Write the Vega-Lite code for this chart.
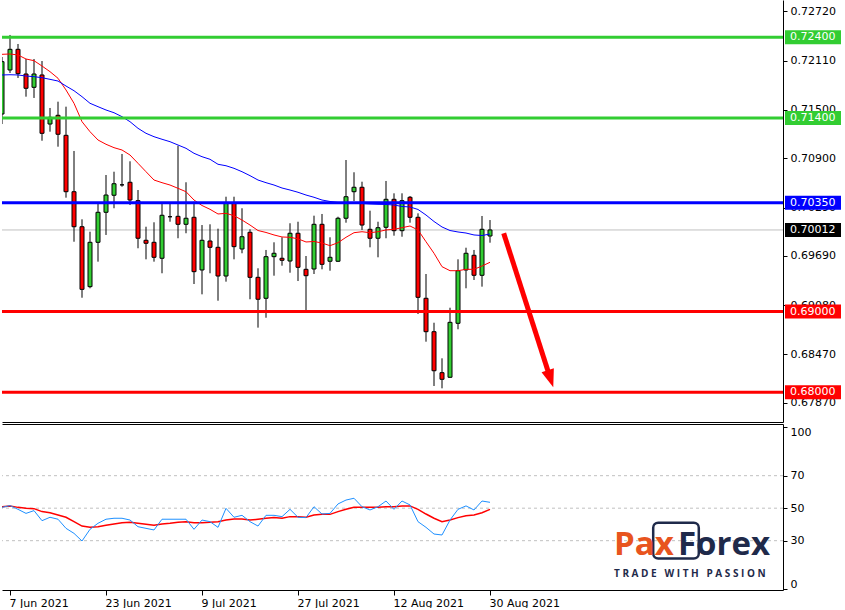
{
  "$schema": "https://vega.github.io/schema/vega-lite/v6.json",
  "padding": 0,
  "background": "#FFFFFF",
  "spacing": 2,
  "config": {"view": {"stroke": null}, "font": "DejaVu Sans"},
  "datasets": {
    "bars": [
      {"i":0,"o":0.71449,"h":0.72156,"l":0.71325,"c":0.72098,"fast":0.72189,"slow":0.71933,"rsi":50.5,"sig":50.9},
      {"i":1,"o":0.71995,"h":0.72429,"l":0.71958,"c":0.72251,"fast":0.72193,"slow":0.71936,"rsi":51.6,"sig":51.4},
      {"i":2,"o":0.72251,"h":0.72317,"l":0.71896,"c":0.71949,"fast":0.72181,"slow":0.71933,"rsi":49.3,"sig":50.5},
      {"i":3,"o":0.71945,"h":0.72131,"l":0.71664,"c":0.71768,"fast":0.72131,"slow":0.7192,"rsi":46.8,"sig":49.9},
      {"i":4,"o":0.7178,"h":0.72131,"l":0.71648,"c":0.71945,"fast":0.7211,"slow":0.71912,"rsi":48.5,"sig":49.7},
      {"i":5,"o":0.71933,"h":0.72106,"l":0.71118,"c":0.7121,"fast":0.72044,"slow":0.71899,"rsi":42.3,"sig":47.9},
      {"i":6,"o":0.71325,"h":0.71524,"l":0.7123,"c":0.71408,"fast":0.71974,"slow":0.71879,"rsi":44.4,"sig":47.2},
      {"i":7,"o":0.71433,"h":0.71602,"l":0.71044,"c":0.71198,"fast":0.71892,"slow":0.71858,"rsi":43.2,"sig":45.8},
      {"i":8,"o":0.71185,"h":0.7154,"l":0.70412,"c":0.70486,"fast":0.71747,"slow":0.71796,"rsi":37.6,"sig":44.4},
      {"i":9,"o":0.70486,"h":0.70991,"l":0.69866,"c":0.70052,"fast":0.71582,"slow":0.71738,"rsi":34.5,"sig":41.7},
      {"i":10,"o":0.70052,"h":0.70144,"l":0.69172,"c":0.69276,"fast":0.71354,"slow":0.71664,"rsi":29.8,"sig":39.0},
      {"i":11,"o":0.69309,"h":0.6999,"l":0.69289,"c":0.69859,"fast":0.7123,"slow":0.71582,"rsi":37.0,"sig":38.2},
      {"i":12,"o":0.69859,"h":0.70342,"l":0.69619,"c":0.70231,"fast":0.71127,"slow":0.7154,"rsi":40.7,"sig":38.6},
      {"i":13,"o":0.70231,"h":0.70693,"l":0.6995,"c":0.70445,"fast":0.71074,"slow":0.71499,"rsi":43.2,"sig":39.5},
      {"i":14,"o":0.70442,"h":0.70734,"l":0.70281,"c":0.70585,"fast":0.71032,"slow":0.71465,"rsi":43.8,"sig":40.3},
      {"i":15,"o":0.70571,"h":0.70954,"l":0.70548,"c":0.70571,"fast":0.71003,"slow":0.71416,"rsi":43.8,"sig":41.1},
      {"i":16,"o":0.70603,"h":0.70863,"l":0.70321,"c":0.70383,"fast":0.70941,"slow":0.71354,"rsi":42.7,"sig":41.3},
      {"i":17,"o":0.70375,"h":0.70507,"l":0.69785,"c":0.69909,"fast":0.70838,"slow":0.71272,"rsi":38.6,"sig":40.7},
      {"i":18,"o":0.69884,"h":0.70052,"l":0.69648,"c":0.69847,"fast":0.70734,"slow":0.7121,"rsi":37.6,"sig":40.1},
      {"i":19,"o":0.69859,"h":0.70107,"l":0.69619,"c":0.69673,"fast":0.70631,"slow":0.71168,"rsi":36.6,"sig":39.5},
      {"i":20,"o":0.69661,"h":0.70342,"l":0.69475,"c":0.70194,"fast":0.70598,"slow":0.71136,"rsi":43.2,"sig":40.3},
      {"i":21,"o":0.70176,"h":0.70334,"l":0.70114,"c":0.70176,"fast":0.70569,"slow":0.71106,"rsi":43.2,"sig":40.7},
      {"i":22,"o":0.70181,"h":0.71056,"l":0.69909,"c":0.70082,"fast":0.70528,"slow":0.71065,"rsi":43.2,"sig":41.3},
      {"i":23,"o":0.70082,"h":0.70603,"l":0.69971,"c":0.70157,"fast":0.70486,"slow":0.71024,"rsi":43.2,"sig":41.7},
      {"i":24,"o":0.70169,"h":0.70362,"l":0.69342,"c":0.69495,"fast":0.70383,"slow":0.70962,"rsi":37.0,"sig":41.1},
      {"i":25,"o":0.69516,"h":0.70073,"l":0.69214,"c":0.69884,"fast":0.70315,"slow":0.7092,"rsi":42.7,"sig":41.1},
      {"i":26,"o":0.69875,"h":0.70082,"l":0.69475,"c":0.69797,"fast":0.70268,"slow":0.70888,"rsi":41.7,"sig":41.3},
      {"i":27,"o":0.69797,"h":0.70028,"l":0.69135,"c":0.69441,"fast":0.7021,"slow":0.70826,"rsi":38.2,"sig":41.7},
      {"i":28,"o":0.69441,"h":0.70424,"l":0.69371,"c":0.7035,"fast":0.70218,"slow":0.70808,"rsi":49.9,"sig":42.7},
      {"i":29,"o":0.7035,"h":0.70424,"l":0.69648,"c":0.69805,"fast":0.70189,"slow":0.70776,"rsi":44.4,"sig":43.4},
      {"i":30,"o":0.69776,"h":0.70281,"l":0.69723,"c":0.69928,"fast":0.70135,"slow":0.70734,"rsi":45.6,"sig":43.4},
      {"i":31,"o":0.69983,"h":0.7002,"l":0.69153,"c":0.69425,"fast":0.70073,"slow":0.70685,"rsi":41.7,"sig":42.7},
      {"i":32,"o":0.69425,"h":0.69537,"l":0.68801,"c":0.69153,"fast":0.70005,"slow":0.70631,"rsi":39.0,"sig":43.2},
      {"i":33,"o":0.69165,"h":0.69764,"l":0.68924,"c":0.69681,"fast":0.69981,"slow":0.70598,"rsi":45.6,"sig":43.8},
      {"i":34,"o":0.69681,"h":0.69859,"l":0.69445,"c":0.69723,"fast":0.6995,"slow":0.70569,"rsi":45.6,"sig":44.2},
      {"i":35,"o":0.69661,"h":0.69921,"l":0.69569,"c":0.69636,"fast":0.69925,"slow":0.70532,"rsi":44.8,"sig":43.8},
      {"i":36,"o":0.69627,"h":0.70095,"l":0.69482,"c":0.69971,"fast":0.69921,"slow":0.70507,"rsi":49.3,"sig":44.8},
      {"i":37,"o":0.69971,"h":0.70114,"l":0.69379,"c":0.69549,"fast":0.69902,"slow":0.70479,"rsi":44.4,"sig":44.8},
      {"i":38,"o":0.69524,"h":0.69689,"l":0.69011,"c":0.69445,"fast":0.69863,"slow":0.70445,"rsi":44.2,"sig":44.4},
      {"i":39,"o":0.69528,"h":0.70189,"l":0.69466,"c":0.70082,"fast":0.69869,"slow":0.70417,"rsi":50.9,"sig":45.8},
      {"i":40,"o":0.70082,"h":0.7021,"l":0.69524,"c":0.69586,"fast":0.6985,"slow":0.70383,"rsi":46.4,"sig":46.2},
      {"i":41,"o":0.69624,"h":0.69921,"l":0.69507,"c":0.69673,"fast":0.69817,"slow":0.70365,"rsi":46.8,"sig":46.2},
      {"i":42,"o":0.69624,"h":0.70176,"l":0.69615,"c":0.70157,"fast":0.69854,"slow":0.70352,"rsi":52.6,"sig":47.9},
      {"i":43,"o":0.70157,"h":0.70879,"l":0.70102,"c":0.70424,"fast":0.69921,"slow":0.70346,"rsi":55.0,"sig":49.3},
      {"i":44,"o":0.70486,"h":0.70727,"l":0.70371,"c":0.70541,"fast":0.69978,"slow":0.70344,"rsi":56.1,"sig":50.5},
      {"i":45,"o":0.70541,"h":0.7061,"l":0.70012,"c":0.70073,"fast":0.6999,"slow":0.7034,"rsi":50.9,"sig":50.5},
      {"i":46,"o":0.7002,"h":0.70251,"l":0.69797,"c":0.69909,"fast":0.69978,"slow":0.70334,"rsi":48.9,"sig":50.5},
      {"i":47,"o":0.69909,"h":0.70114,"l":0.69673,"c":0.7004,"fast":0.6999,"slow":0.7033,"rsi":50.9,"sig":50.5},
      {"i":48,"o":0.70045,"h":0.70619,"l":0.69909,"c":0.70392,"fast":0.70012,"slow":0.70328,"rsi":54.4,"sig":50.9},
      {"i":49,"o":0.70392,"h":0.70466,"l":0.69941,"c":0.70003,"fast":0.7002,"slow":0.70321,"rsi":49.3,"sig":50.9},
      {"i":50,"o":0.70003,"h":0.70466,"l":0.69928,"c":0.70375,"fast":0.7004,"slow":0.70303,"rsi":54.4,"sig":51.4},
      {"i":51,"o":0.70417,"h":0.70433,"l":0.70102,"c":0.70169,"fast":0.70061,"slow":0.70297,"rsi":52.0,"sig":51.4},
      {"i":52,"o":0.70169,"h":0.70218,"l":0.6897,"c":0.69177,"fast":0.70012,"slow":0.70266,"rsi":41.7,"sig":49.3},
      {"i":53,"o":0.69165,"h":0.69466,"l":0.68627,"c":0.68751,"fast":0.69866,"slow":0.70197,"rsi":38.2,"sig":46.4},
      {"i":54,"o":0.68751,"h":0.68862,"l":0.68078,"c":0.68267,"fast":0.69723,"slow":0.70117,"rsi":34.1,"sig":43.8},
      {"i":55,"o":0.68243,"h":0.68421,"l":0.68049,"c":0.68161,"fast":0.69557,"slow":0.70049,"rsi":33.5,"sig":41.7},
      {"i":56,"o":0.68186,"h":0.69048,"l":0.6818,"c":0.68867,"fast":0.69507,"slow":0.70005,"rsi":42.7,"sig":42.7},
      {"i":57,"o":0.68855,"h":0.69648,"l":0.68781,"c":0.69507,"fast":0.69507,"slow":0.69987,"rsi":49.3,"sig":44.2},
      {"i":58,"o":0.69516,"h":0.69792,"l":0.69289,"c":0.69723,"fast":0.69524,"slow":0.69974,"rsi":51.4,"sig":45.4},
      {"i":59,"o":0.69698,"h":0.69764,"l":0.69392,"c":0.6945,"fast":0.69524,"slow":0.6995,"rsi":48.9,"sig":45.8},
      {"i":60,"o":0.6945,"h":0.70185,"l":0.69309,"c":0.7002,"fast":0.69565,"slow":0.69943,"rsi":54.4,"sig":47.2},
      {"i":61,"o":0.69937,"h":0.70135,"l":0.69854,"c":0.70012,"fast":0.69611,"slow":0.69962,"rsi":53.6,"sig":49.3}
    ],
    "levels": [
      {"price":0.724,"kind":"res"},
      {"price":0.714,"kind":"res"},
      {"price":0.7035,"kind":"pivot"},
      {"price":0.70012,"kind":"cur"},
      {"price":0.69,"kind":"sup"},
      {"price":0.68,"kind":"sup"}
    ],
    "arrow": [{"x0":62.71,"p0":0.69971,"x1":68.56,"p1":0.68168}],
    "guides": [{"v":30},{"v":50},{"v":70}],
    "logo": [{"a":"Pax","b":"Forex","t":"T R A D E \u00a0 W I T H \u00a0 P A S S I O N"}]
  },
  "vconcat": [
    {
      "width": 781,
      "height": 422,
      "layer": [
        {
          "data": {"name": "levels"},
          "transform": [{"filter": "datum.kind == 'cur'"}],
          "mark": {"type": "rule", "color": "#C0C0C0", "strokeWidth": 1},
          "encoding": {
            "y": {"field": "price", "type": "quantitative",
              "scale": {"domain": [0.676316, 0.728623], "nice": false, "zero": false, "padding": 0},
              "axis": {"orient": "right", "values": [0.6787,0.6847,0.6908,0.6969,0.7029,0.709,0.715,0.7211,0.7272],
                "format": ".5f", "title": null, "grid": false, "domainColor": "#000000", "tickColor": "#000000",
                "tickSize": 4, "labelPadding": 3, "labelFont": "DejaVu Sans", "labelFontSize": 11,
                "labelColor": "#000000", "labelOverlap": false, "labelBound": false, "labelFlush": false}}
          }
        },
        {
          "data": {"name": "bars"},
          "mark": {"type": "rule", "color": "#000000", "strokeWidth": 1, "clip": true},
          "encoding": {
            "x": {"field": "i", "type": "quantitative",
              "scale": {"domain": [0, 97.625], "nice": false, "zero": false, "padding": 0},
              "axis": {"orient": "bottom", "labels": false, "ticks": false, "domainColor": "#000000", "title": null, "grid": false}},
            "y": {"field": "l", "type": "quantitative"},
            "y2": {"field": "h"}
          }
        },
        {
          "data": {"name": "bars"},
          "mark": {"type": "bar", "width": 4, "stroke": "#000000", "strokeWidth": 1, "clip": true},
          "encoding": {
            "x": {"field": "i", "type": "quantitative"},
            "y": {"field": "o", "type": "quantitative"},
            "y2": {"field": "c"},
            "fill": {"condition": [{"test": "datum.c > datum.o", "value": "#32CD32"}, {"test": "datum.c < datum.o", "value": "#FF0000"}], "value": "#000000"}
          }
        },
        {
          "data": {"name": "bars"},
          "mark": {"type": "line", "color": "#FF0000", "strokeWidth": 1, "clip": true},
          "encoding": {
            "x": {"field": "i", "type": "quantitative"},
            "y": {"field": "fast", "type": "quantitative"}
          }
        },
        {
          "data": {"name": "bars"},
          "mark": {"type": "line", "color": "#0000FF", "strokeWidth": 1, "clip": true},
          "encoding": {
            "x": {"field": "i", "type": "quantitative"},
            "y": {"field": "slow", "type": "quantitative"}
          }
        },
        {
          "data": {"name": "levels"},
          "transform": [{"filter": "datum.kind != 'cur'"}],
          "mark": {"type": "rule", "strokeWidth": 3},
          "encoding": {
            "y": {"field": "price", "type": "quantitative"},
            "color": {"field": "kind", "type": "nominal", "legend": null,
              "scale": {"domain": ["res", "pivot", "cur", "sup"], "range": ["#32CD32", "#0000FF", "#000000", "#FF0000"]}}
          }
        },
        {
          "data": {"name": "arrow"},
          "mark": {"type": "rule", "color": "#FF0000", "strokeWidth": 5},
          "encoding": {
            "x": {"field": "x0", "type": "quantitative"},
            "y": {"field": "p0", "type": "quantitative"},
            "x2": {"field": "x1"},
            "y2": {"field": "p1"}
          }
        },
        {
          "data": {"name": "arrow"},
          "mark": {"type": "point", "shape": "M-0.72,-1L0.72,-1L0,1Z", "filled": true, "color": "#FF0000", "opacity": 1, "size": 324, "angle": 342},
          "encoding": {
            "x": {"field": "x1", "type": "quantitative"},
            "y": {"field": "p1", "type": "quantitative"}
          }
        },
        {
          "data": {"name": "levels"},
          "mark": {"type": "bar", "orient": "horizontal", "height": 14},
          "encoding": {
            "x": {"datum": 97.875, "type": "quantitative"},
            "x2": {"datum": 104.875},
            "y": {"field": "price", "type": "quantitative"},
            "color": {"field": "kind", "type": "nominal", "legend": null}
          }
        },
        {
          "data": {"name": "levels"},
          "mark": {"type": "text", "align": "left", "baseline": "middle", "color": "#FFFFFF", "font": "DejaVu Sans", "fontSize": 11},
          "encoding": {
            "x": {"datum": 98.5, "type": "quantitative"},
            "y": {"field": "price", "type": "quantitative"},
            "text": {"field": "price", "type": "quantitative", "format": ".5f"}
          }
        }
      ]
    },
    {
      "width": 781,
      "height": 166,
      "resolve": {"axis": {"x": "independent"}},
      "layer": [
        {
          "data": {"name": "guides"},
          "mark": {"type": "rule", "color": "#C0C0C0", "strokeDash": [3, 3], "strokeWidth": 1},
          "encoding": {
            "y": {"field": "v", "type": "quantitative",
              "scale": {"domain": [-0.35, 101.8], "nice": false, "zero": false, "padding": 0},
              "axis": {"orient": "right", "values": [0, 30, 50, 70, 100], "title": null, "grid": false,
                "domainColor": "#000000", "tickColor": "#000000", "tickSize": 4, "labelPadding": 3,
                "labelFont": "DejaVu Sans", "labelFontSize": 11, "labelColor": "#000000",
                "labelOverlap": false, "labelFlush": 5}}
          }
        },
        {
          "data": {"name": "bars"},
          "mark": {"type": "line", "color": "#FF0000", "strokeWidth": 1.5, "clip": true},
          "encoding": {
            "x": {"field": "i", "type": "quantitative",
              "scale": {"domain": [0, 97.625], "nice": false, "zero": false, "padding": 0},
              "axis": {"orient": "top", "labels": false, "ticks": false, "domainColor": "#000000", "title": null, "grid": false}},
            "y": {"field": "sig", "type": "quantitative"}
          }
        },
        {
          "data": {"name": "bars"},
          "mark": {"type": "line", "color": "#1E90FF", "strokeWidth": 1, "clip": true},
          "encoding": {
            "x": {"field": "i", "type": "quantitative",
              "axis": {"orient": "bottom", "values": [1, 13, 25, 37, 49, 61],
                "labelExpr": "datum.value == 1 ? '7 Jun 2021' : datum.value == 13 ? '23 Jun 2021' : datum.value == 25 ? '9 Jul 2021' : datum.value == 37 ? '27 Jul 2021' : datum.value == 49 ? '12 Aug 2021' : '30 Aug 2021'",
                "labelAlign": "left", "labelOffset": -1, "tickSize": 5, "tickColor": "#000000", "domainColor": "#000000",
                "labelFont": "DejaVu Sans", "labelFontSize": 11, "labelColor": "#000000", "labelPadding": 2,
                "title": null, "grid": false, "labelOverlap": false, "labelFlush": false, "labelBound": false}},
            "y": {"field": "rsi", "type": "quantitative"}
          }
        },
        {
          "data": {"name": "logo"},
          "mark": {"type": "rect", "fill": null, "fillOpacity": 0, "stroke": "#1F2A4A", "strokeWidth": 2.5, "cornerRadius": 5},
          "encoding": {
            "x": {"datum": 81.4, "type": "quantitative", "axis": null},
            "x2": {"datum": 87.1},
            "y": {"datum": 41.1, "type": "quantitative"},
            "y2": {"datum": 19.0}
          }
        },
        {
          "data": {"name": "logo"},
          "mark": {"type": "text", "align": "left", "baseline": "alphabetic", "font": "Open Sans", "fontWeight": "bold", "fontSize": 33, "color": "#E8541E"},
          "encoding": {
            "x": {"datum": 76.5, "type": "quantitative", "axis": null},
            "y": {"datum": 21.2, "type": "quantitative"},
            "text": {"field": "a"}
          }
        },
        {
          "data": {"name": "logo"},
          "mark": {"type": "text", "align": "left", "baseline": "alphabetic", "font": "Open Sans", "fontWeight": "bold", "fontSize": 33, "color": "#1F2A4A"},
          "encoding": {
            "x": {"datum": 84.5, "type": "quantitative", "axis": null},
            "y": {"datum": 21.2, "type": "quantitative"},
            "text": {"field": "b"}
          }
        },
        {
          "data": {"name": "logo"},
          "mark": {"type": "text", "align": "left", "baseline": "middle", "font": "Open Sans", "fontWeight": "bold", "fontSize": 10, "color": "#1F2A4A"},
          "encoding": {
            "x": {"datum": 76.5, "type": "quantitative", "axis": null},
            "y": {"datum": 9.5, "type": "quantitative"},
            "text": {"field": "t"}
          }
        }
      ]
    }
  ]
}
